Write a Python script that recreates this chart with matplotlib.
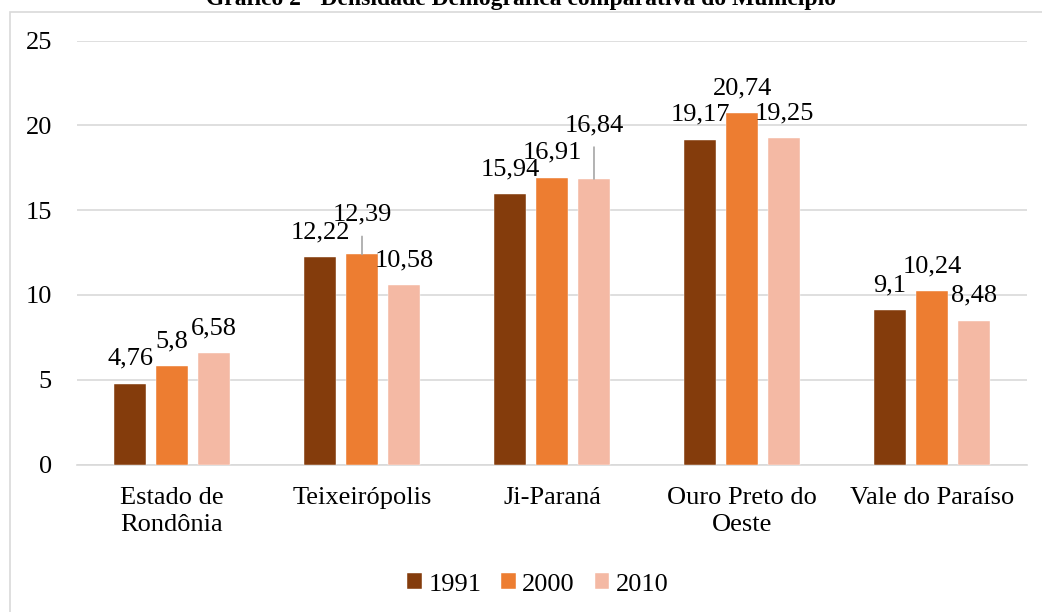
import matplotlib.pyplot as plt
import numpy as np
from matplotlib.patches import Rectangle

plt.rcParams['font.family'] = ['Liberation Serif', 'DejaVu Serif']

municipios = ["Estado de\nRondônia", "Teixeirópolis", "Ji-Paraná", "Ouro Preto do\nOeste", "Vale do Paraíso"]
anos = ["1991", "2000", "2010"]
d1991 = [4.76, 12.22, 15.94, 19.17, 9.1]
d2000 = [5.8, 12.39, 16.91, 20.74, 10.24]
d2010 = [6.58, 10.58, 16.84, 19.25, 8.48]
cores = ["#843C0C", "#ED7D31", "#F4B9A4"]

fig = plt.figure(figsize=(10.42, 6.12), dpi=100)
ax = fig.add_axes([77/1042, 1 - 464.5/612, 950/1042, 423.8/612])

# moldura cinza do gráfico (cortada a direita e embaixo)
fig.patches.append(Rectangle((10/1042, -0.1), 1.2, 1 - 12/612 + 0.1, transform=fig.transFigure,
                             fill=False, edgecolor="#D9D9D9", linewidth=1.2))

fig.text(0.5, 1.0, "Gráfico 2 - Densidade Demográfica comparativa do Município",
         ha='center', va='center', fontsize=17, fontweight='bold')

x = np.arange(len(municipios))
larg = 0.172
desl = 0.221
series = [d1991, d2000, d2010]
fs = 19

for i, (vals, cor, ano) in enumerate(zip(series, cores, anos)):
    pos = x + (i - 1) * desl
    ax.bar(pos, vals, width=larg, color=cor, label=ano, zorder=3, edgecolor='white', linewidth=0.3)
    for j, (px, v) in enumerate(zip(pos, vals)):
        txt = str(v).replace('.', ',')
        offset = 10
        linha = False
        if i == 1 and j == 1:
            offset = 21
            linha = True
        if i == 2 and j == 2:
            offset = 31
            linha = True
        if linha:
            ax.annotate(txt, (px, v), xytext=(0, offset), textcoords='offset points',
                        ha='center', va='bottom', fontsize=fs,
                        arrowprops=dict(arrowstyle='-', color='#A6A6A6', lw=1.2,
                                        shrinkA=6, shrinkB=0))
        else:
            ax.annotate(txt, (px, v), xytext=(0, offset), textcoords='offset points',
                        ha='center', va='bottom', fontsize=fs)

ax.set_ylim(0, 25)
ax.set_xlim(-0.5, len(municipios) - 0.5)
ax.set_yticks([0, 5, 10, 15, 20, 25])
ax.set_xticks(x)
ax.set_xticklabels(municipios, fontsize=fs, linespacing=1.3)
ax.tick_params(axis='y', labelsize=fs, length=0, pad=18)
ax.tick_params(axis='x', length=0, pad=16)
ax.grid(axis='y', color='#D9D9D9', linewidth=1.2, zorder=0)
for s in ['top', 'right', 'left']:
    ax.spines[s].set_visible(False)
ax.spines['bottom'].set_color('#D9D9D9')
ax.spines['bottom'].set_linewidth(1.2)

fig.legend(loc='center', bbox_to_anchor=(538/1042, 0.045), ncol=3, frameon=False, fontsize=fs,
           handlelength=0.55, handleheight=0.55, handletextpad=0.25, columnspacing=0.75)

fig.savefig("out.png", dpi=100)
